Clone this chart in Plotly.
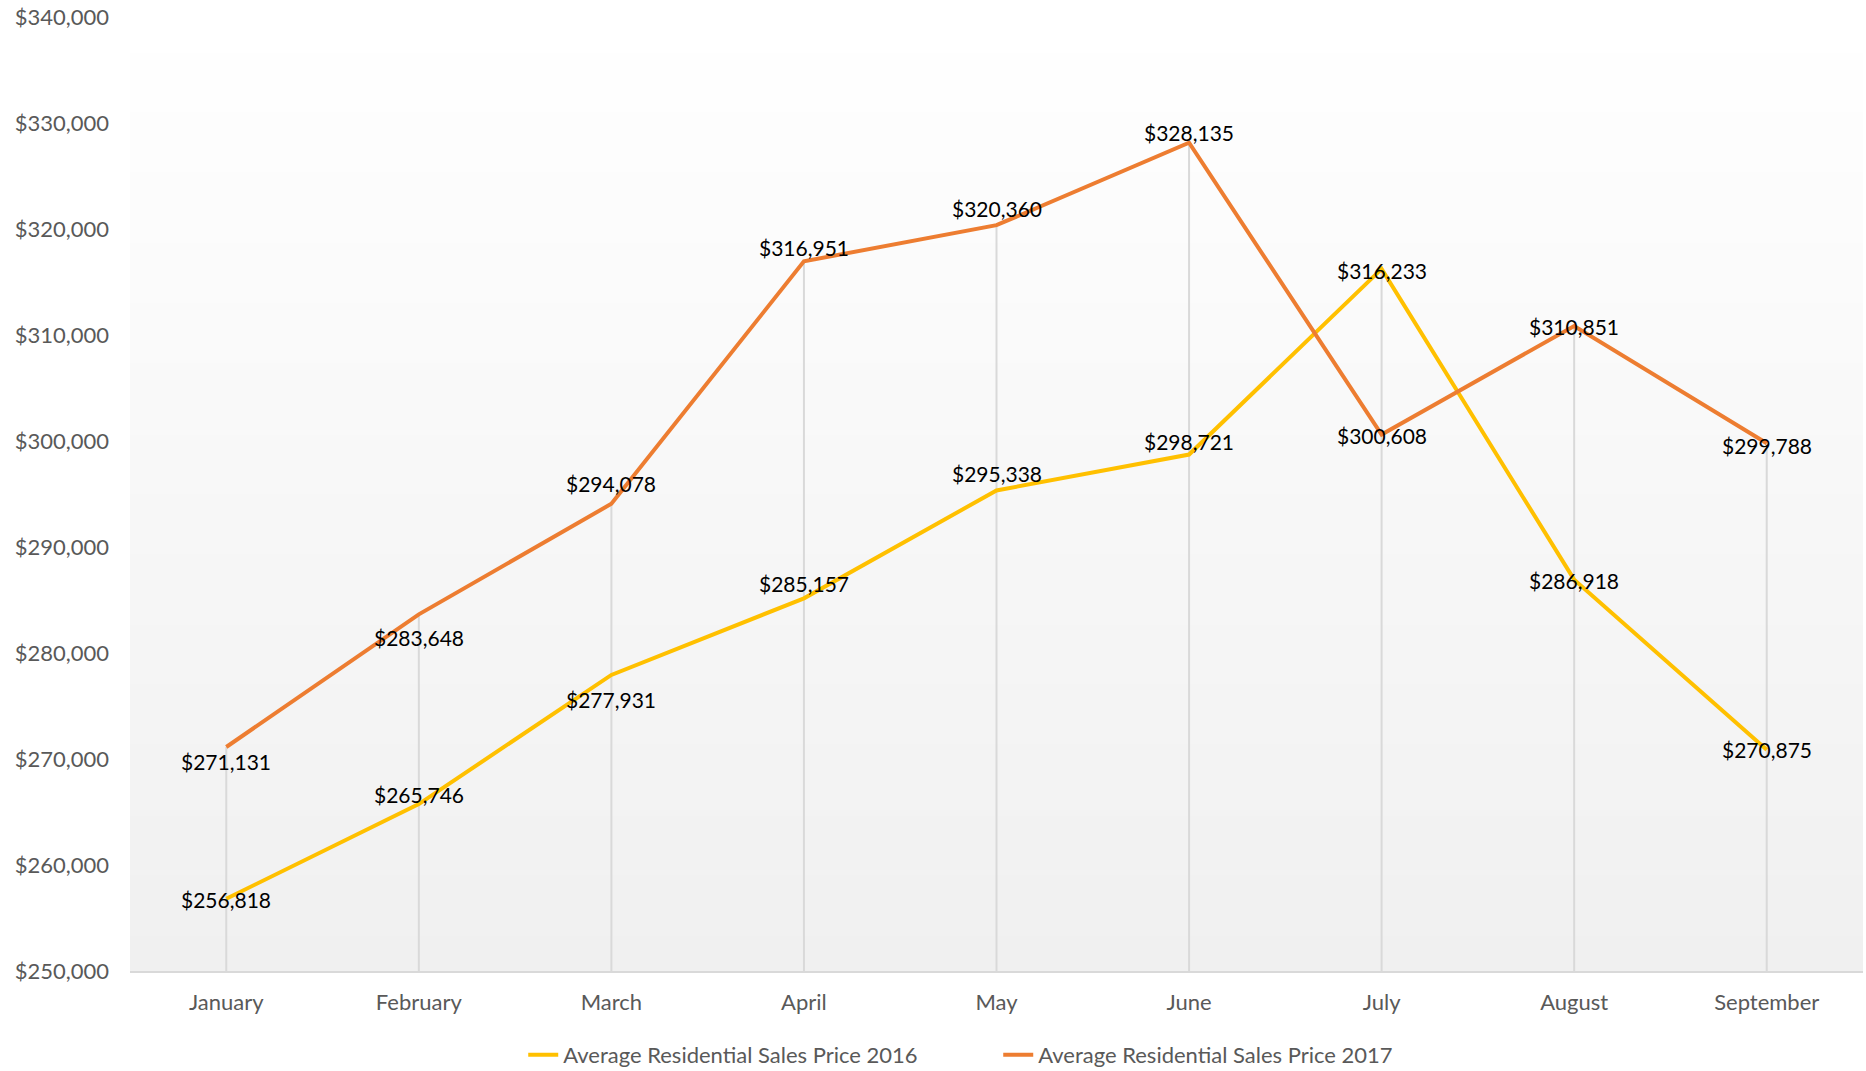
import plotly.graph_objects as go

months = ["January", "February", "March", "April", "May", "June", "July", "August", "September"]
price_2016 = [256818, 265746, 277931, 285157, 295338, 298721, 316233, 286918, 270875]
price_2017 = [271131, 283648, 294078, 316951, 320360, 328135, 300608, 310851, 299788]
name_2016 = "Average Residential Sales Price 2016"
name_2017 = "Average Residential Sales Price 2017"

# label vertical shift in px (style; positive = up)
shift_2016 = [-1, 10, -25, 15, 17, 13, -2, -1, 0]
shift_2017 = [-14, -23, 20, 14, 17, 10, -1, -1, -2]

Y_MIN, Y_MAX = 250000, 340000
FONT = "Lato, 'Open Sans', sans-serif"

fig = go.Figure()

# drop lines (from each category's highest point to the axis)
dx, dy = [], []
for m, a, b in zip(months, price_2016, price_2017):
    dx += [m, m, None]
    dy += [Y_MIN, max(a, b), None]
fig.add_trace(go.Scatter(x=dx, y=dy, mode="lines", line=dict(color="#d9d9d9", width=2),
                         showlegend=False, hoverinfo="skip"))

fig.add_trace(go.Scatter(x=months, y=price_2016, mode="lines", name=name_2016,
                         line=dict(color="#FFC000", width=4)))
fig.add_trace(go.Scatter(x=months, y=price_2017, mode="lines", name=name_2017,
                         line=dict(color="#ED7D31", width=4)))

annotations = []
for series, shifts in ((price_2016, shift_2016), (price_2017, shift_2017)):
    for m, v, s in zip(months, series, shifts):
        annotations.append(dict(x=m, y=v, xref="x", yref="y", text="${:,.0f}".format(v),
                                showarrow=False, xanchor="center", yanchor="middle", yshift=s,
                                font=dict(family=FONT, size=21, color="#000000")))

# gradient plot background via bands
shapes = []
n = 80
for i in range(n):
    t = (i + 0.5) / n  # 0 bottom -> 1 top
    c = round(240 + (255 - 240) * t)
    shapes.append(dict(type="rect", xref="paper", yref="paper", x0=0, x1=1,
                       y0=i / n, y1=(i + 1) / n + 0.002, fillcolor=f"rgb({c},{c},{c})",
                       line=dict(width=0), layer="below"))

fig.update_layout(
    width=1866, height=1071,
    margin=dict(l=130, r=3, t=17, b=100),
    paper_bgcolor="white", plot_bgcolor="white",
    font=dict(family=FONT, size=22, color="#595959"),
    shapes=shapes,
    annotations=annotations,
    showlegend=True,
    legend=dict(orientation="h", x=0.501, xanchor="center", xref="paper",
                y=0.015, yanchor="middle", yref="container",
                font=dict(family=FONT, size=22, color="#595959"), itemwidth=30,
                entrywidth=430, entrywidthmode="pixels",
                bgcolor="rgba(0,0,0,0)"),
    xaxis=dict(type="category", range=[-0.5, 8.5], showgrid=False, zeroline=False,
               showline=True, linecolor="#d9d9d9", linewidth=2, ticks="",
               tickfont=dict(family=FONT, size=22, color="#595959"), ticklabelstandoff=11),
    yaxis=dict(range=[Y_MIN, Y_MAX], dtick=10000, tickformat="$,.0f", showgrid=False,
               zeroline=False, showline=False, ticks="",
               tickfont=dict(family=FONT, size=22, color="#595959"), ticklabelstandoff=20),
)

fig.write_html("out.html")
